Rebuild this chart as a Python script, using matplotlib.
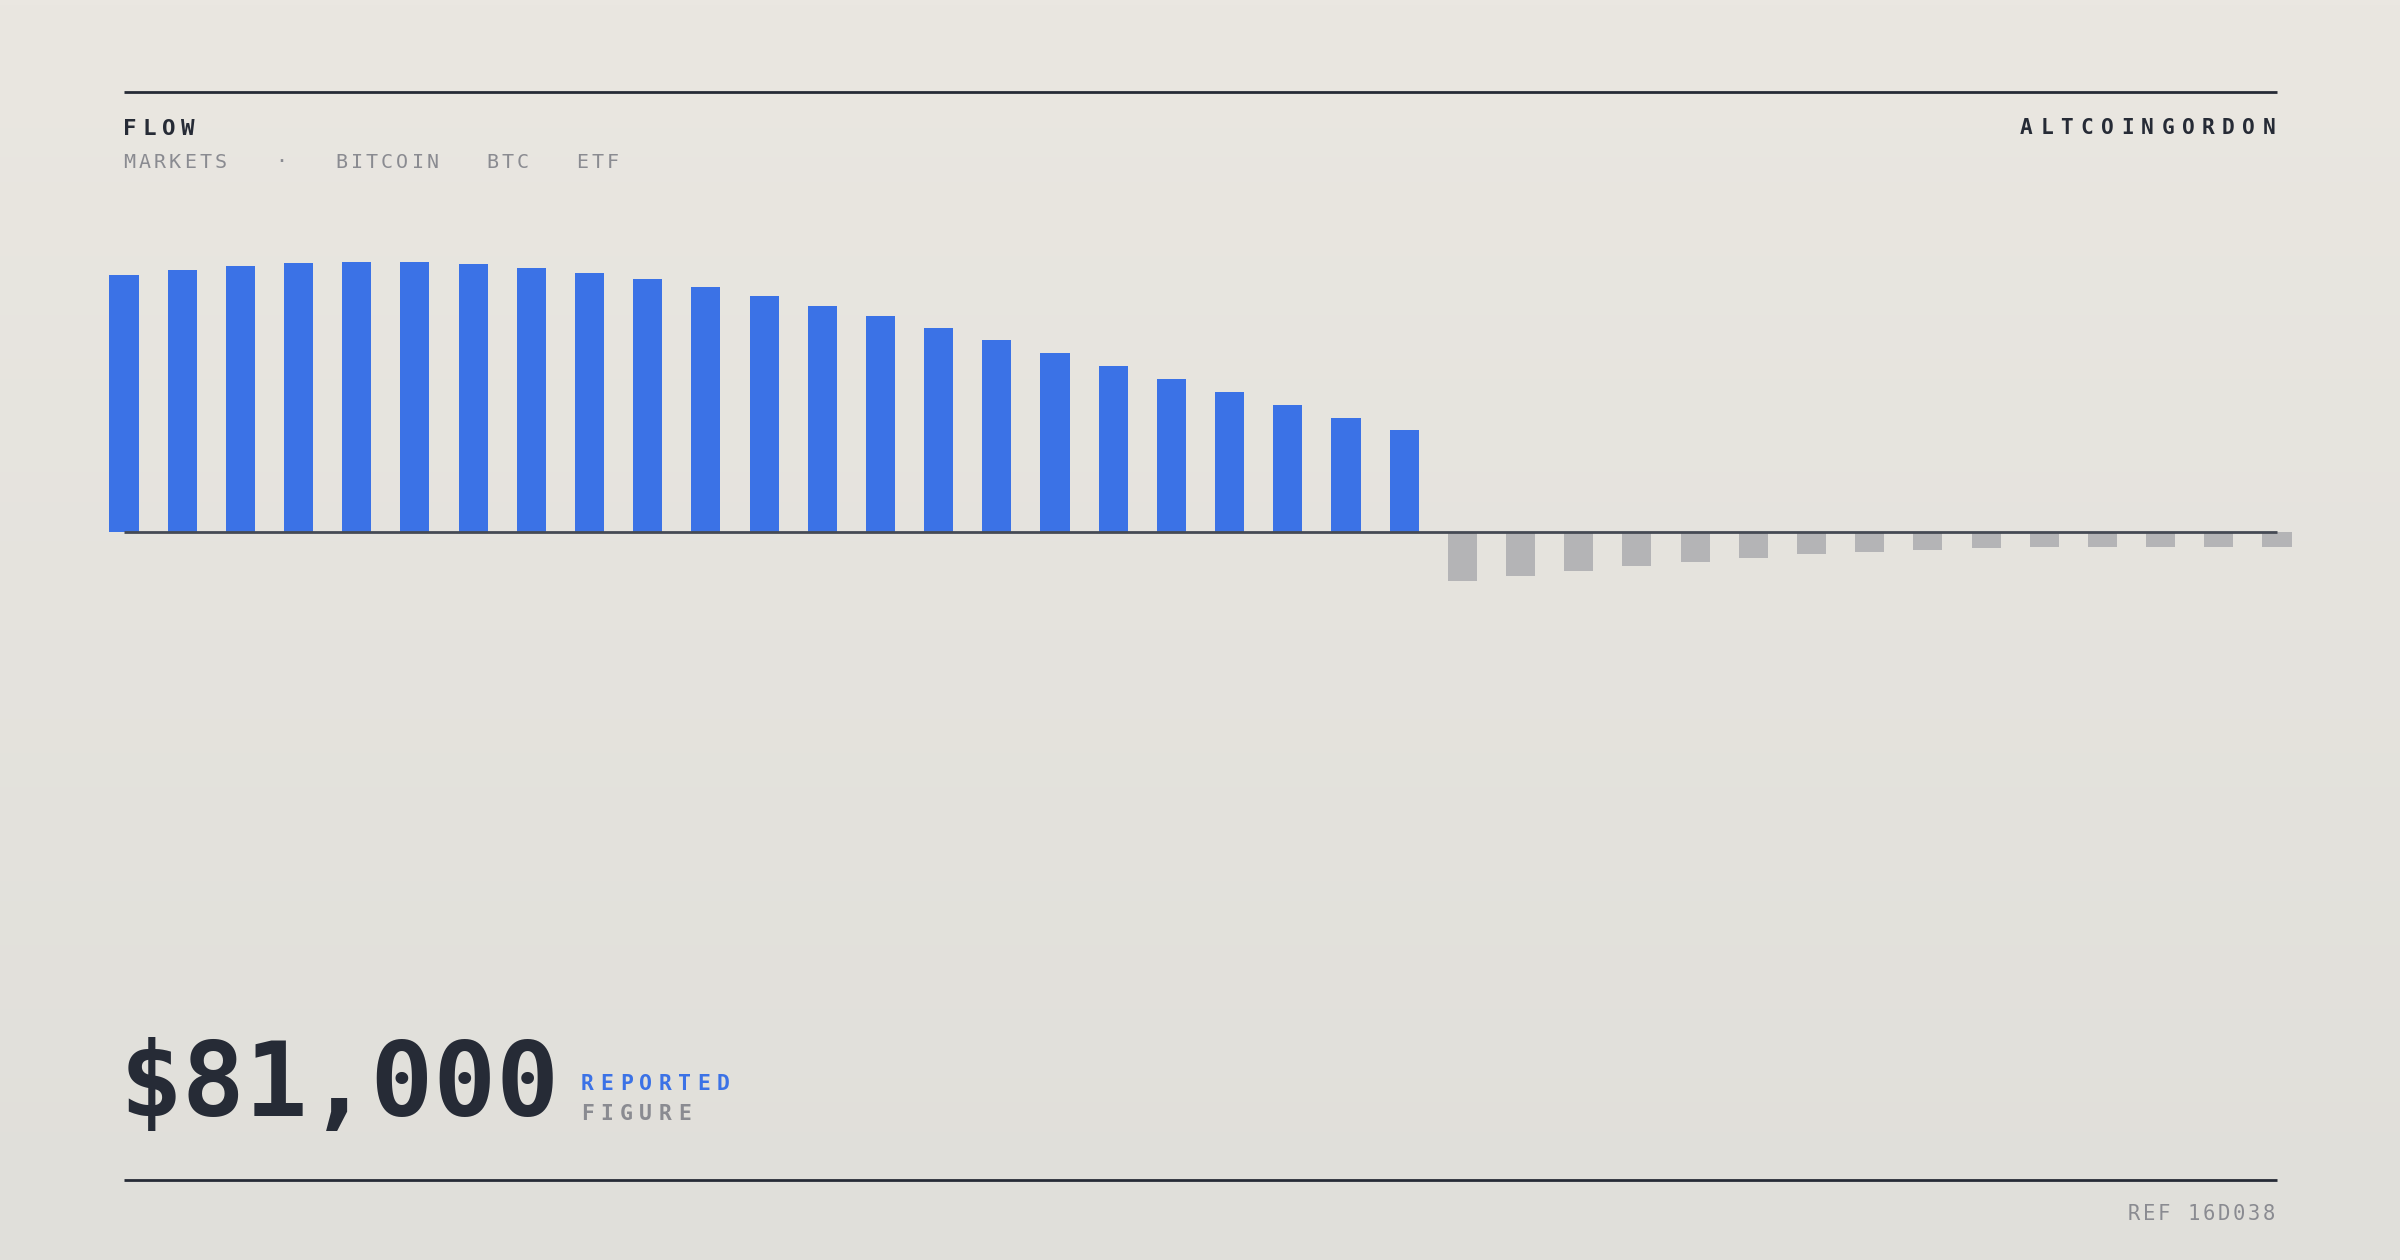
import numpy as np
import matplotlib
matplotlib.use('Agg')
from matplotlib import pyplot as plt

# daily ETF flow, blue = inflow, grey = outflow
inflow = [95.2, 97.0, 98.5, 99.5, 100.0, 99.9, 99.1, 97.8, 95.9, 93.6, 90.7, 87.4,
          83.7, 79.9, 75.4, 71.0, 66.2, 61.4, 56.6, 51.7, 46.9, 42.1, 37.7]
outflow = [-18.1, -16.3, -14.3, -12.5, -11.0, -9.5, -8.3, -7.3, -6.6, -6.0, -5.7,
           -5.4, -5.4, -5.4, -5.7]

title = 'FLOW'
tags = ['MARKETS', 'BITCOIN', 'BTC', 'ETF']
brand = 'ALTCOINGORDON'
big_value = '$81,000'
value_tag = 'REPORTED'
value_sub = 'FIGURE'
ref = 'REF 16D038'

W, H, DPI = 2400, 1260, 200
DARK = '#262b36'
GREY = '#8a8b91'
BLUE = '#3b72e6'
MONO = 'DejaVu Sans Mono'

fig = plt.figure(figsize=(W / DPI, H / DPI), dpi=DPI)

# background: soft vertical gradient
bg = fig.add_axes([0, 0, 1, 1], zorder=0)
top = np.array([234, 231, 225]) / 255
bot = np.array([224, 223, 218]) / 255
t = np.linspace(0, 1, 256)[:, None]
grad = top * (1 - t) + bot * t
bg.imshow(grad[:, None, :], aspect='auto', extent=[0, 1, 0, 1])
bg.axis('off')

# bar chart, placed in pixel box x 100..2300, y 200..700
pitch = (2277 - 124) / 37
unit = 2.7  # px per unit
ax = fig.add_axes([100 / W, 1 - 700 / H, 2200 / W, 500 / H], zorder=1)
ax.patch.set_alpha(0)
x_in = np.arange(len(inflow))
x_out = np.arange(len(inflow), len(inflow) + len(outflow))
ax.bar(x_in, inflow, width=0.5, color=BLUE, zorder=2)
ax.bar(x_out, outflow, width=0.5, color='#b4b4b6', zorder=2)
n = len(inflow) + len(outflow)
ax.plot([0, n - 1], [0, 0], color='#454a54', lw=1.0, zorder=3, solid_capstyle='butt')
ax.set_xlim(-24 / pitch, (2300 - 124) / pitch)
ax.set_ylim(-(700 - 532) / unit, (532 - 200) / unit)
ax.axis('off')

# overlay in pixel coords for rules and text
ov = fig.add_axes([0, 0, 1, 1], zorder=3)
ov.set_xlim(0, W)
ov.set_ylim(H, 0)
ov.patch.set_alpha(0)
ov.axis('off')

ov.plot([124, 2277], [92, 92], color=DARK, lw=1.0, solid_capstyle='butt')
ov.plot([124, 2277], [1180, 1180], color=DARK, lw=1.0, solid_capstyle='butt')


def spaced(x, y, s, step, **kw):
    # letter-spaced text, one glyph at a time
    for i, ch in enumerate(s):
        if ch != ' ':
            ov.text(x + i * step, y, ch, ha='left', va='baseline', family=MONO, **kw)


spaced(123, 135, title, 19.4, fontsize=8.1, weight='bold', color=DARK)
tag_x = [123, 335.5, 486.5, 576.5]
for tx, tag in zip(tag_x, tags):
    spaced(tx, 167.5, tag, 15.2, fontsize=7.2, color=GREY)
ov.text(281, 167.5, '·', ha='center', va='baseline', family=MONO, fontsize=7.2, color=GREY)

spaced(2020, 134.5, brand, 20.2, fontsize=7.6, weight='bold', color=DARK)

ov.text(120, 1116, big_value, ha='left', va='baseline', family=MONO, fontsize=37.6,
        weight='bold', color=DARK)
spaced(581, 1090.5, value_tag, 19.4, fontsize=7.7, weight='bold', color=BLUE)
spaced(581, 1120.5, value_sub, 19.4, fontsize=7.7, weight='bold', color=GREY)

spaced(2128, 1220, ref, 15.0, fontsize=7.4, color=GREY)

fig.savefig('out.png', dpi=DPI)
